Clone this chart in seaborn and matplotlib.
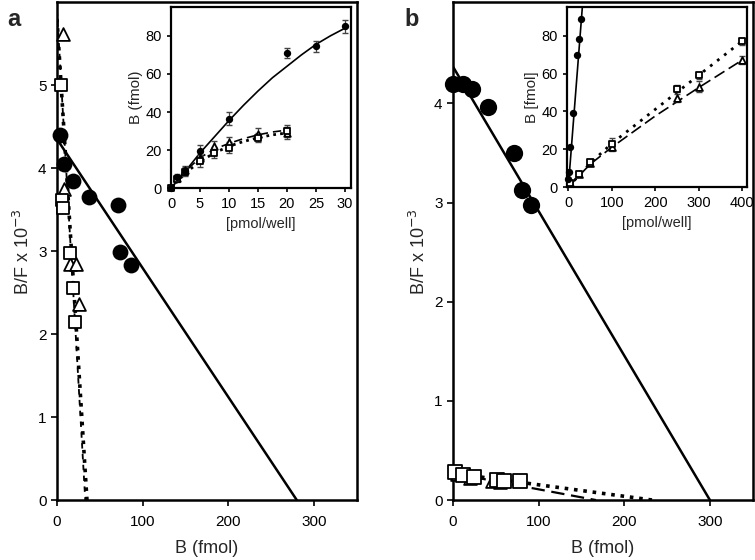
import matplotlib
matplotlib.use("Agg")
import matplotlib.pyplot as plt
import seaborn as sns

# ---- panel a, Scatchard plot ----
a_circ_B = [3, 8, 19, 37, 71, 74, 86]
a_circ_BF = [4.40, 4.05, 3.85, 3.65, 3.56, 2.99, 2.83]
a_sq_B = [5, 6, 7, 15, 19, 21]
a_sq_BF = [5.0, 3.62, 3.52, 2.98, 2.55, 2.15]
a_tri_B = [7, 8, 15, 22, 26]
a_tri_BF = [5.62, 3.75, 2.85, 2.85, 2.36]
a_solid_B = [0, 280]
a_solid_BF = [4.35, 0]
a_dot_B = [0, 35]
a_dot_BF = [5.8, 0]
a_dash_B = [0, 33]
a_dash_BF = [5.9, 0]

# ---- panel a, inset saturation ----
ia_circ_x = [0, 1, 2.5, 5, 10, 20, 25, 30]
ia_circ_y = [0, 6, 9, 19.5, 36.5, 71, 74.5, 85]
ia_circ_err = [1, 1.5, 2, 3, 3.5, 2.5, 3, 3.5]
ia_sq_x = [0, 1, 2.5, 5, 7.5, 10, 15, 20]
ia_sq_y = [0, 4.7, 8.5, 14.3, 18.6, 21.3, 26.5, 30]
ia_sq_err = [1, 1.5, 2, 3, 3, 3, 2.5, 3]
ia_tri_x = [1, 2.5, 5, 7.5, 10, 15, 20]
ia_tri_y = [5.5, 9.5, 16, 22, 24, 28.6, 29]
ia_tri_err = [1.5, 2, 3, 3, 3, 3, 3]
ia_fit_x = [0, 2.5, 5, 7.5, 10, 12.5, 15, 17.5, 20, 22.5, 25, 27.5, 30]
ia_fit_solid = [0, 9, 18.5, 27, 35.5, 43.5, 51, 58, 64, 70, 75.5, 80, 84]
ia_fit2_x = [0, 2.5, 5, 7.5, 10, 12.5, 15, 17.5, 20]
ia_fit_dot = [0, 8, 14, 18.5, 22, 24.5, 26.5, 28, 29]
ia_fit_dash = [0, 9, 16, 20.5, 23.5, 26, 28, 29.5, 30.5]

# ---- panel b, Scatchard plot ----
b_circ_B = [0, 12, 22, 41, 71, 80, 91]
b_circ_BF = [4.2, 4.2, 4.15, 3.96, 3.5, 3.13, 2.98]
b_sq_B = [2, 12, 24, 51, 60, 78]
b_sq_BF = [0.28, 0.25, 0.23, 0.20, 0.19, 0.19]
b_tri_B = [5, 20, 45, 55]
b_tri_BF = [0.26, 0.22, 0.19, 0.18]
b_solid_B = [0, 300]
b_solid_BF = [4.37, 0]
b_dot_B = [0, 233]
b_dot_BF = [0.27, 0]
b_dash_B = [0, 167]
b_dash_BF = [0.27, 0]

# ---- panel b, inset saturation ----
ib_circ_x = [0, 1, 5, 10, 20, 25, 30]
ib_circ_y = [4, 8, 21, 39, 70, 78, 89]
ib_sq_x = [5, 25, 50, 100, 250, 300, 400]
ib_sq_y = [2, 7, 13, 23, 52, 59, 77]
ib_sq_err = [1, 1, 1.5, 3, 2, 2, 2]
ib_tri_x = [5, 25, 50, 100, 250, 300, 400]
ib_tri_y = [2, 7, 12.5, 21, 47, 53, 67]
ib_tri_err = [1, 1, 1.5, 2, 2, 3, 2]
ib_solid_x = [0, 33]
ib_solid_y = [0, 97]
ib_fit_x = [0, 50, 100, 200, 300, 400]
ib_fit_dot = [0, 12.5, 23, 41, 59, 77]
ib_fit_dash = [0, 12, 21, 37.5, 52.5, 67]

sns.set_style("ticks")
plt.rcParams['font.family'] = ['Liberation Sans', 'DejaVu Sans']
plt.rcParams['font.size'] = 11

DOT = (0, (1, 1.6))
DASH = (0, (6, 3))

fig = plt.figure(figsize=(7.55, 5.6), dpi=100)
ax_a = fig.add_axes([0.0755, 0.107, 0.397, 0.889])
ax_b = fig.add_axes([0.600, 0.107, 0.397, 0.889])
in_a = fig.add_axes([0.2265, 0.664, 0.238, 0.323])
in_b = fig.add_axes([0.751, 0.666, 0.238, 0.321])


def style(ax, lw=1.8, ts=11):
    for s in ax.spines.values():
        s.set_visible(True)
        s.set_linewidth(lw)
        s.set_color('black')
    ax.tick_params(direction='out', length=4, width=1.2, labelsize=ts, colors='black')


def line(ax, x, y, ls, lw=1.8):
    sns.lineplot(x=x, y=y, ax=ax, color='black', linestyle=ls, linewidth=lw,
                 sort=False, estimator=None)


def pts(ax, x, y, m, s, filled):
    sns.scatterplot(x=x, y=y, ax=ax, marker=m, s=s,
                    color='black' if filled else 'white',
                    edgecolor='black', linewidth=1.3 if not filled else 0,
                    zorder=5, clip_on=False)


# panel a
line(ax_a, a_dot_B, a_dot_BF, DOT, 2.6)
line(ax_a, a_dash_B, a_dash_BF, (0, (3, 3)), 1.3)
line(ax_a, a_solid_B, a_solid_BF, '-', 1.8)
pts(ax_a, a_tri_B, a_tri_BF, '^', 85, False)
pts(ax_a, a_sq_B, a_sq_BF, 's', 85, False)
pts(ax_a, a_circ_B, a_circ_BF, 'o', 130, True)
ax_a.set_xlim(0, 350)
ax_a.set_ylim(0, 6)
ax_a.set_xticks([0, 100, 200, 300])
ax_a.set_yticks([0, 1, 2, 3, 4, 5])
ax_a.set_xlabel('B (fmol)', fontsize=13, labelpad=8)
ax_a.set_ylabel('B/F x 10$^{-3}$', fontsize=13)
style(ax_a)
ax_a.tick_params(axis='x', pad=7)

# panel b
line(ax_b, b_dot_B, b_dot_BF, DOT, 2.6)
line(ax_b, b_dash_B, b_dash_BF, DASH, 1.6)
line(ax_b, b_solid_B, b_solid_BF, '-', 1.8)
pts(ax_b, b_tri_B, b_tri_BF, '^', 85, False)
pts(ax_b, b_sq_B, b_sq_BF, 's', 90, False)
pts(ax_b, b_circ_B, b_circ_BF, 'o', 155, True)
ax_b.set_xlim(0, 350)
ax_b.set_ylim(0, 5.02)
ax_b.set_xticks([0, 100, 200, 300])
ax_b.set_yticks([0, 1, 2, 3, 4])
ax_b.set_xlabel('B (fmol)', fontsize=13, labelpad=8)
ax_b.set_ylabel('B/F x 10$^{-3}$', fontsize=13)
style(ax_b)
ax_b.tick_params(axis='x', pad=7)

# inset a
line(in_a, ia_fit_x, ia_fit_solid, '-', 1.2)
line(in_a, ia_fit2_x, ia_fit_dot, (0, (1, 1.5)), 2.0)
line(in_a, ia_fit2_x, ia_fit_dash, (0, (5, 3)), 1.2)
for x, y, e in [(ia_circ_x, ia_circ_y, ia_circ_err), (ia_sq_x, ia_sq_y, ia_sq_err),
                (ia_tri_x, ia_tri_y, ia_tri_err)]:
    in_a.errorbar(x, y, yerr=e, fmt='none', ecolor='#444444', elinewidth=0.9,
                  capsize=2.5, zorder=4)
pts(in_a, ia_tri_x, ia_tri_y, '^', 22, False)
pts(in_a, ia_sq_x, ia_sq_y, 's', 22, False)
pts(in_a, ia_circ_x, ia_circ_y, 'o', 28, True)
in_a.set_xlim(0, 31)
in_a.set_ylim(0, 95)
in_a.set_xticks([0, 5, 10, 15, 20, 25, 30])
in_a.set_yticks([0, 20, 40, 60, 80])
in_a.set_xlabel('[pmol/well]', fontsize=10.5, labelpad=4)
in_a.set_ylabel('B (fmol)', fontsize=11, labelpad=2)
style(in_a, lw=1.6, ts=10.5)
in_a.tick_params(length=3)

# inset b
line(in_b, ib_solid_x, ib_solid_y, '-', 1.2)
line(in_b, ib_fit_x, ib_fit_dot, (0, (1, 2.2)), 2.0)
line(in_b, ib_fit_x, ib_fit_dash, (0, (7, 3)), 1.2)
for x, y, e in [(ib_sq_x, ib_sq_y, ib_sq_err), (ib_tri_x, ib_tri_y, ib_tri_err)]:
    in_b.errorbar(x, y, yerr=e, fmt='none', ecolor='#444444', elinewidth=0.9,
                  capsize=2.5, zorder=4)
pts(in_b, ib_tri_x, ib_tri_y, '^', 24, False)
pts(in_b, ib_sq_x, ib_sq_y, 's', 24, False)
pts(in_b, ib_circ_x, ib_circ_y, 'o', 28, True)
in_b.set_xlim(-3, 411)
in_b.set_ylim(0, 95)
in_b.set_xticks([0, 100, 200, 300, 400])
in_b.set_yticks([0, 20, 40, 60, 80])
in_b.set_xlabel('[pmol/well]', fontsize=10.5, labelpad=4)
in_b.set_ylabel('B [fmol]', fontsize=11, labelpad=2)
style(in_b, lw=1.6, ts=10.5)
in_b.tick_params(length=3)

fig.text(0.010, 0.953, 'a', fontsize=17, fontweight='bold')
fig.text(0.536, 0.953, 'b', fontsize=17, fontweight='bold')

fig.savefig('out.png', dpi=100)
